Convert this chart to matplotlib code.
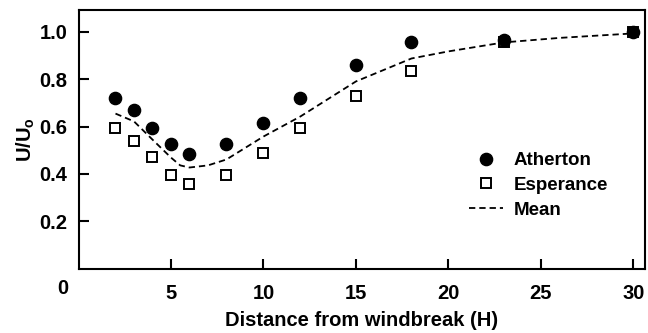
import matplotlib
matplotlib.use("Agg")
import matplotlib.pyplot as plt

# Data
atherton_x = [2, 3, 4, 5, 6, 8, 10, 12, 15, 18, 23, 30]
atherton_y = [0.719, 0.672, 0.596, 0.528, 0.486, 0.528, 0.617, 0.723, 0.862, 0.956, 0.968, 0.998]

esperance_x = [2, 3, 4, 5, 6, 8, 10, 12, 15, 18, 23, 30]
esperance_y = [0.592, 0.537, 0.473, 0.397, 0.359, 0.397, 0.490, 0.592, 0.731, 0.837, 0.956, 0.998]

mean_x = [2, 3, 4, 5, 5.5, 6, 7, 8, 10, 12, 15, 18, 20, 23, 26, 30]
mean_y = [0.655, 0.622, 0.545, 0.469, 0.436, 0.427, 0.436, 0.461, 0.558, 0.643, 0.791, 0.888, 0.918, 0.956, 0.975, 0.994]

x_ticks = [5, 10, 15, 20, 25, 30]
y_ticks = [0.2, 0.4, 0.6, 0.8, 1.0]

plt.rcParams['font.family'] = ['Liberation Sans', 'DejaVu Sans']
plt.rcParams['font.weight'] = 'bold'
plt.rcParams['mathtext.fontset'] = 'custom'
plt.rcParams['mathtext.rm'] = 'Liberation Sans:bold'
plt.rcParams['mathtext.bf'] = 'Liberation Sans:bold'
plt.rcParams['mathtext.it'] = 'Liberation Sans:bold'

fig = plt.figure(figsize=(6.48, 3.33), dpi=100)
ax = fig.add_axes([78.5 / 648, 1 - 268.5 / 333, (644.5 - 78.5) / 648, (268.5 - 10) / 333])

ax.plot(mean_x, mean_y, linestyle=(0, (3.5, 2.2)), color='black', linewidth=1.3, label='Mean', zorder=2)
ax.plot(atherton_x, atherton_y, linestyle='none', marker='o', markersize=8.8,
        markerfacecolor='black', markeredgecolor='black', label='Atherton', zorder=3)
ax.plot(esperance_x, esperance_y, linestyle='none', marker='s', markersize=7.5,
        markerfacecolor='white', markeredgecolor='black', markeredgewidth=1.4,
        label='Esperance', zorder=2.5)

ax.set_xlim(0, 30.6)
ax.set_ylim(0, 1.093)
ax.set_xticks(x_ticks)
ax.set_xticklabels([str(t) for t in x_ticks])
ax.set_yticks(y_ticks)
ax.set_yticklabels([f"{t:.1f}" for t in y_ticks])
ax.tick_params(axis='both', direction='in', length=7, width=1.5, labelsize=14.5)
ax.tick_params(axis='x', pad=11)
ax.tick_params(axis='y', pad=8)
for lab in ax.get_xticklabels() + ax.get_yticklabels():
    lab.set_fontweight('bold')
for s in ax.spines.values():
    s.set_linewidth(1.5)

ax.text(63 / 648, 1 - 288 / 333, '0', transform=fig.transFigure, ha='center', va='center',
        fontsize=14.5, fontweight='bold')

ax.set_xlabel('Distance from windbreak (H)', fontsize=14.5, fontweight='bold', labelpad=6)
ax.set_ylabel(r'U/U$_\mathrm{o}$', fontsize=14.5, fontweight='bold', labelpad=2)

handles, labels = ax.get_legend_handles_labels()
order = [1, 2, 0]
ax.legend([handles[i] for i in order], [labels[i] for i in order], frameon=False,
          loc='upper left', bbox_to_anchor=(0.66, 0.515),
          handlelength=1.8, handletextpad=0.6, labelspacing=0.4,
          prop={'weight': 'bold', 'size': 13.5})

fig.savefig('out.png', dpi=100)
